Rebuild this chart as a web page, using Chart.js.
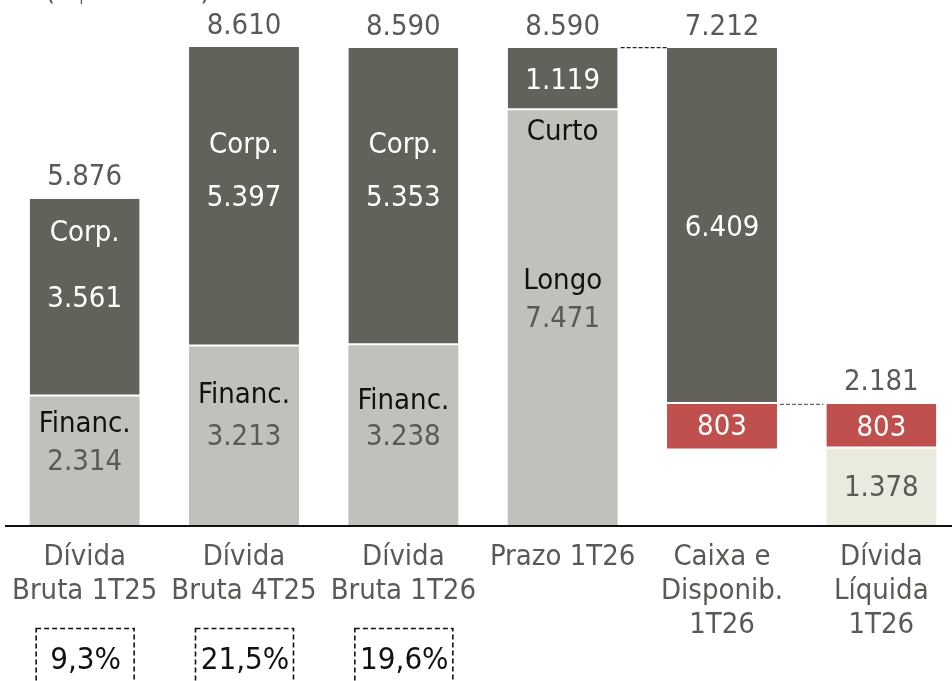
<!DOCTYPE html>
<html>
<head>
<meta charset="utf-8">
<script src="https://cdn.jsdelivr.net/npm/chart.js@4/dist/chart.umd.min.js"></script>
<style>
  html, body { margin: 0; padding: 0; background: #fff; overflow: hidden; }
  #wrap { position: relative; width: 961px; height: 681px; }
</style>
</head>
<body>
<div id="wrap"><canvas id="c"></canvas></div>
<script>
const categories = [
  ["Dívida", "Bruta 1T25"],
  ["Dívida", "Bruta 4T25"],
  ["Dívida", "Bruta 1T26"],
  ["Prazo 1T26"],
  ["Caixa e", "Disponib.", "1T26"],
  ["Dívida", "Líquida", "1T26"]
];
const baseValues  = [0, 0, 0, 0, 1378, 0];
const lowerValues = [2314, 3213, 3238, 7471, 803, 1378];
const upperValues = [3561, 5397, 5353, 1119, 6409, 803];
const totalLabels = ["5.876", "8.610", "8.590", "8.590", "7.212", "2.181"];
const lowerNames  = ["Financ.", "Financ.", "Financ.", "Longo", "", ""];
const upperNames  = ["Corp.", "Corp.", "Corp.", "Curto", "", ""];
const percentages = ["9,3%", "21,5%", "19,6%", null, null, null];
const unitLabel = "(R$ milhões)";

const DARK = "#63625a", LIGHT = "#c1c1bc", RED = "#c0504d", BEIGE = "#ebeadf";
const GREY_TXT = "#5a5a55";
const FONT = "'DejaVu Sans Condensed', 'DejaVu Sans', sans-serif";

const lowerColors = [LIGHT, LIGHT, LIGHT, LIGHT, RED, BEIGE];
const upperColors = [DARK, DARK, DARK, DARK, DARK, RED];

function fmt(v) {
  return v.toLocaleString('de-DE');
}

const labelPlugin = {
  id: 'labels',
  afterDatasetsDraw(chart) {
    const ctx = chart.ctx;
    const lowerMeta = chart.getDatasetMeta(1);
    const upperMeta = chart.getDatasetMeta(2);
    ctx.save();
    ctx.textAlign = 'center';
    ctx.textBaseline = 'middle';
    ctx.font = "29px " + FONT;
    const nameGapUpper = [66, 53, 53];
    const nameGapLower = [38, 42, 36, 38];
    for (let i = 0; i < categories.length; i++) {
      const lo = lowerMeta.data[i], up = upperMeta.data[i];
      const x = lo.x;
      // lower segment
      const loTop = lo.y, loBot = lo.base;
      const loC = (loTop + loBot) / 2;
      const loIsRed = lowerColors[i] === RED;
      ctx.fillStyle = loIsRed ? '#ffffff' : GREY_TXT;
      ctx.fillText(fmt(lowerValues[i]), x, loC + (loIsRed ? 1 : 2));
      if (lowerNames[i]) {
        ctx.fillStyle = '#111111';
        ctx.fillText(lowerNames[i], x, loC + 2 - nameGapLower[i]);
      }
      // upper segment
      const upTop = up.y, upBot = up.base;
      const upC = (upTop + upBot) / 2;
      ctx.fillStyle = '#ffffff';
      ctx.fillText(fmt(upperValues[i]), x, upC + 2);
      if (upperNames[i]) {
        if (upBot - upTop < 90) {
          ctx.fillStyle = '#111111';
          ctx.fillText(upperNames[i], x, upBot + 22);
        } else {
          ctx.fillStyle = '#ffffff';
          ctx.fillText(upperNames[i], x, upC + 2 - nameGapUpper[i]);
        }
      }
      // totals
      ctx.fillStyle = GREY_TXT;
      ctx.fillText(totalLabels[i], x, upTop - 21);
    }

    // connectors
    const w4 = upperMeta.data[3], w5 = upperMeta.data[4], r6 = upperMeta.data[5];
    const half4 = w4.width / 2, half5 = w5.width / 2, half6 = r6.width / 2;
    ctx.lineWidth = 1.3;
    ctx.setLineDash([4, 2]);
    ctx.strokeStyle = '#222222';
    ctx.beginPath();
    ctx.moveTo(w4.x + half4 + 3, w4.y - 0.5);
    ctx.lineTo(w5.x - half5, w4.y - 0.5);
    ctx.stroke();
    ctx.strokeStyle = '#666666';
    ctx.beginPath();
    ctx.moveTo(w5.x + half5 + 3, w5.base + 0.5);
    ctx.lineTo(r6.x - half6 - 3, w5.base + 0.5);
    ctx.stroke();
    ctx.setLineDash([]);

    // baseline axis
    const area = chart.chartArea;
    ctx.strokeStyle = '#111111';
    ctx.lineWidth = 2;
    ctx.beginPath();
    ctx.moveTo(area.left, area.bottom + 1);
    ctx.lineTo(chart.width, area.bottom + 1);
    ctx.stroke();

    // percentage boxes
    ctx.font = "31px " + FONT;
    for (let i = 0; i < percentages.length; i++) {
      if (!percentages[i]) continue;
      const x = lowerMeta.data[i].x;
      ctx.setLineDash([5, 3]);
      ctx.strokeStyle = '#111111';
      ctx.lineWidth = 1.6;
      ctx.strokeRect(x - 48.5, area.bottom + 103.5, 98, 80);
      ctx.setLineDash([]);
      ctx.fillStyle = '#111111';
      ctx.fillText(percentages[i], x + 1, area.bottom + 136);
    }

    // unit label (cropped at top)
    ctx.font = "29px " + FONT;
    ctx.fillStyle = GREY_TXT;
    ctx.textAlign = 'left';
    ctx.textBaseline = 'alphabetic';
    ctx.fillText(unitLabel, 45, 0);
    ctx.restore();
  }
};

new Chart(document.getElementById('c'), {
  type: 'bar',
  data: {
    labels: categories,
    datasets: [
      { label: 'base', data: baseValues, backgroundColor: 'rgba(0,0,0,0)', borderWidth: 0 },
      { label: 'lower', data: lowerValues, backgroundColor: lowerColors, borderWidth: 0 },
      { label: 'upper', data: upperValues, backgroundColor: upperColors,
        borderColor: '#ffffff', borderWidth: { top: 0, left: 0, right: 0, bottom: 2 }, borderSkipped: false }
    ]
  },
  options: {
    responsive: true,
    maintainAspectRatio: false,
    animation: false,
    devicePixelRatio: 1,
    layout: { padding: { left: 5, right: 0, top: 0, bottom: 0 } },
    datasets: { bar: { barPercentage: 0.69, categoryPercentage: 1.0, grouped: true } },
    plugins: { legend: { display: false }, tooltip: { enabled: false }, title: { display: false } },
    scales: {
      x: {
        stacked: true,
        offset: true,
        grid: { display: false },
        border: { display: false },
        ticks: {
          color: GREY_TXT,
          font: { family: FONT, size: 29, lineHeight: 1.17 },
          padding: 8,
          maxRotation: 0,
          autoSkip: false
        },
        afterFit(scale) { scale.height = 156; }
      },
      y: {
        stacked: true,
        display: false,
        min: 0,
        max: 9456
      }
    }
  },
  plugins: [labelPlugin]
});
</script>
</body>
</html>
